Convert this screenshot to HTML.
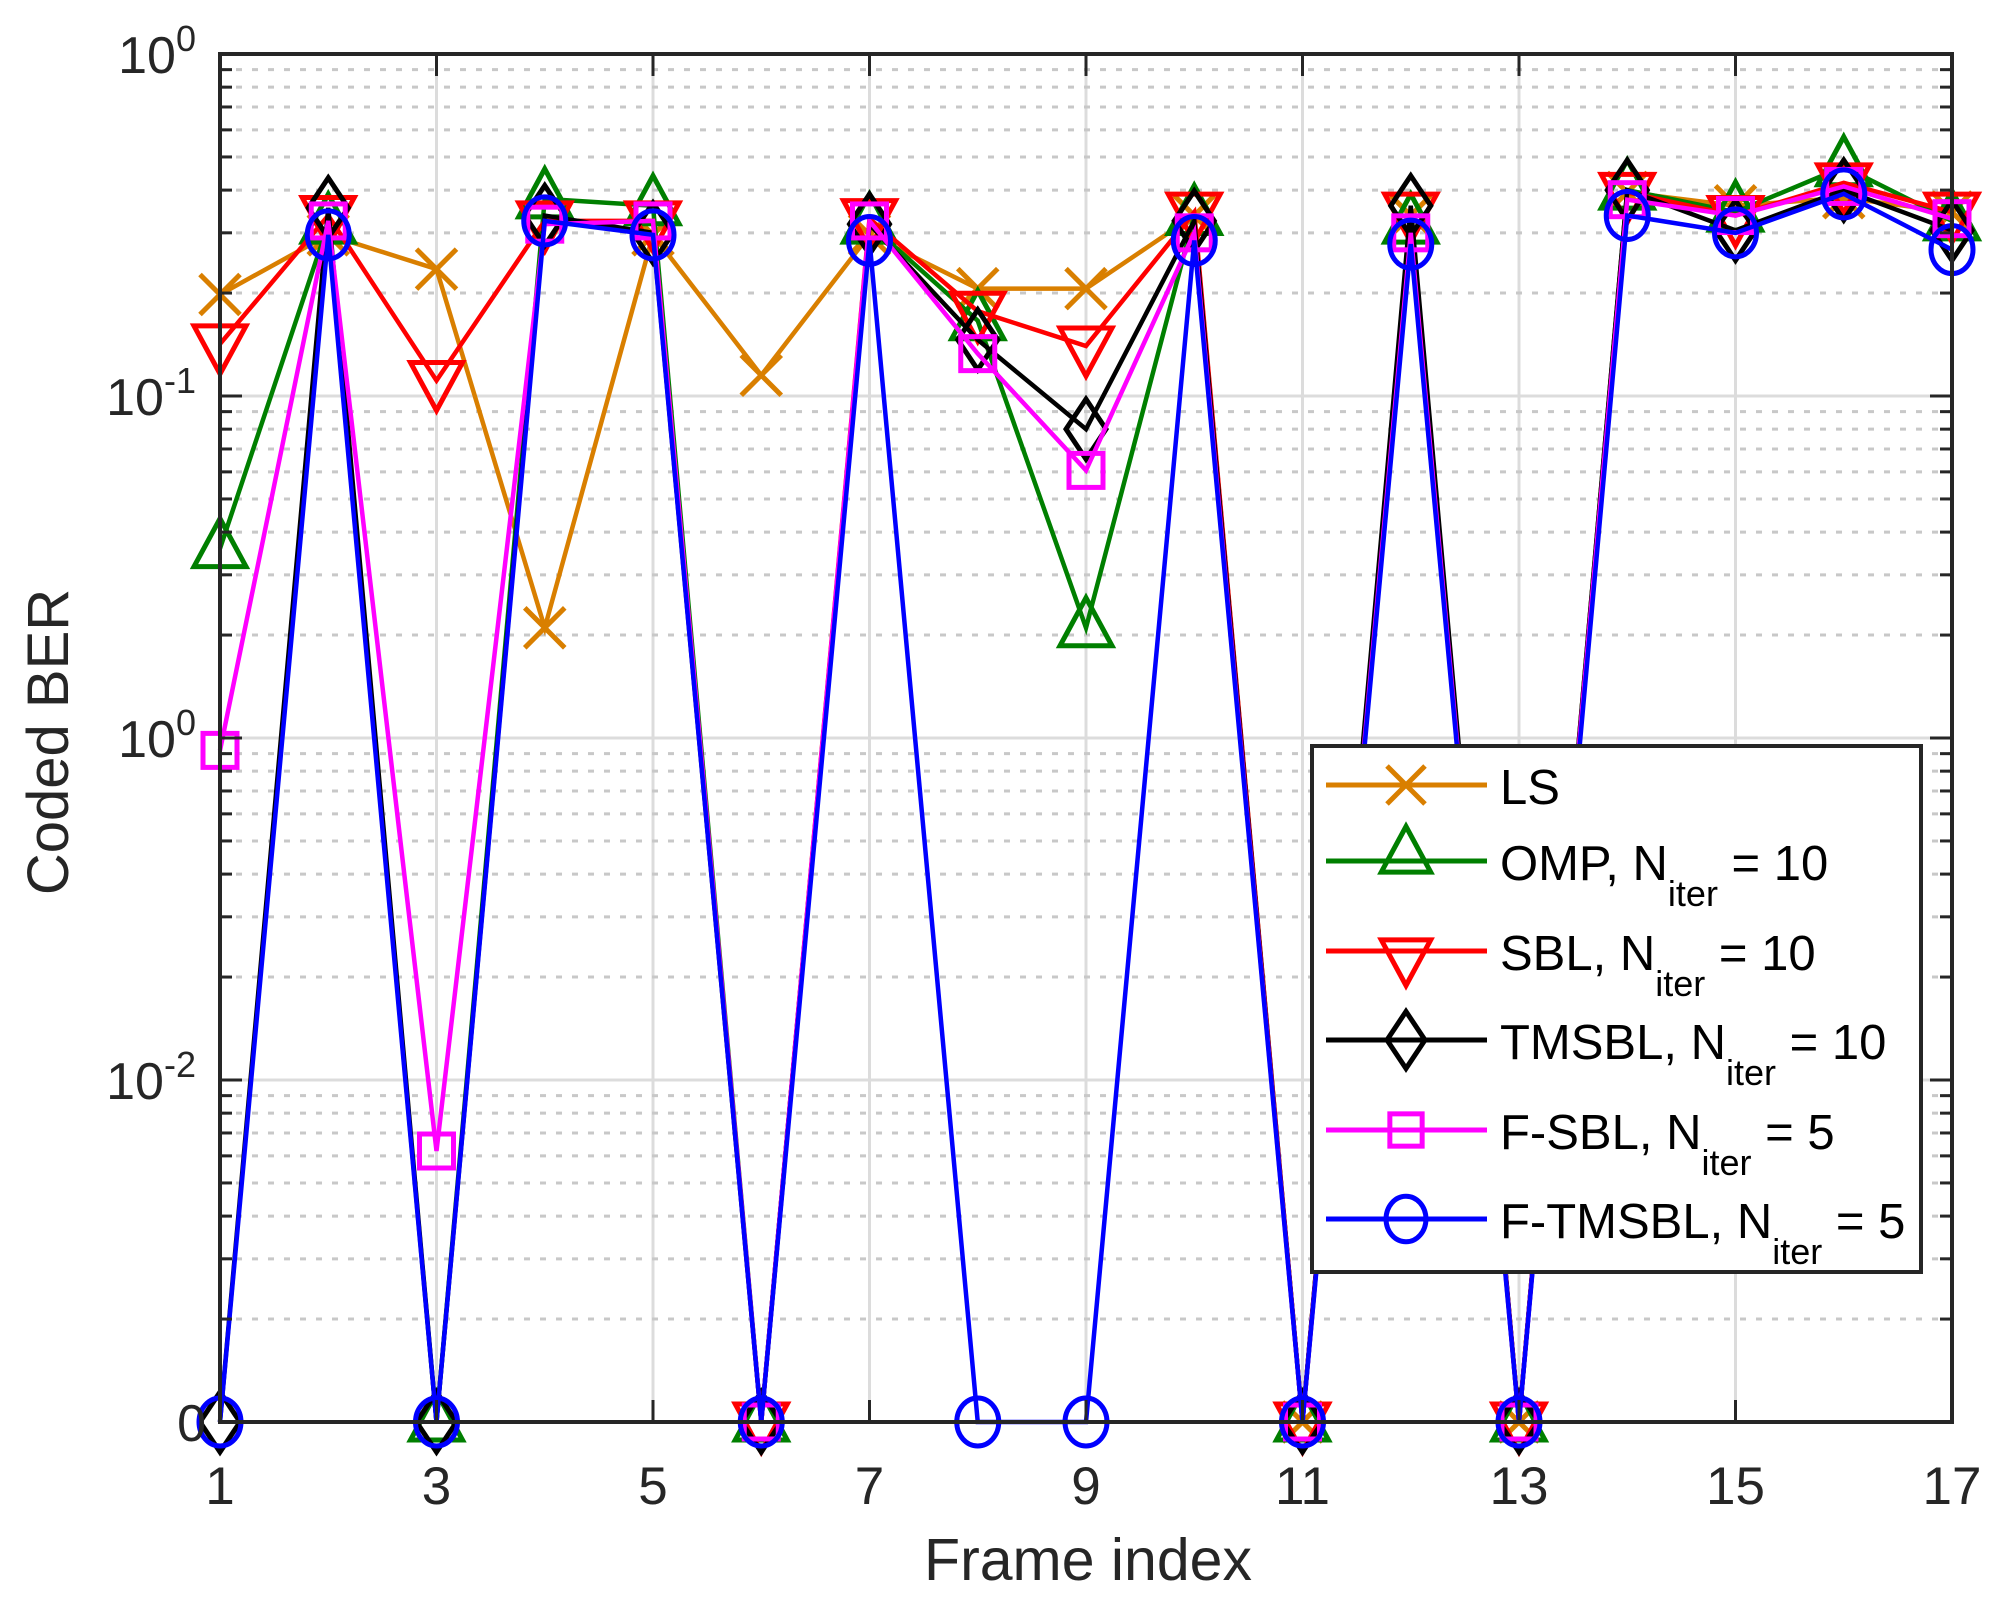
<!DOCTYPE html>
<html><head><meta charset="utf-8"><style>
html,body{margin:0;padding:0;background:#fff;}
svg{display:block;font-family:"Liberation Sans",sans-serif;}
</style></head><body>
<svg id="chart" width="2011" height="1600" viewBox="0 0 2011 1600" xmlns="http://www.w3.org/2000/svg">
<g id="grid"></g>
<g id="series"></g>
<g id="axes"></g>
<text x="1088" y="1580" font-size="59" text-anchor="middle" fill="#262626">Frame index</text>
<text transform="translate(68,742) rotate(-90)" font-size="58" text-anchor="middle" fill="#262626">Coded BER</text>
<g id="legend"></g>
</svg>
<script>
const frames = [1,2,3,4,5,6,7,8,9,10,11,12,13,14,15,16,17];
const lsVals    = [0.198,0.296,0.235,0.021,0.296,0.115,0.296,0.206,0.206,0.337,0,0.337,0,0.394,0.36,0.38,0.345];
const ompVals   = [0.0358,0.318,0,0.377,0.36,0,0.318,0.166,0.021,0.337,0,0.318,0,0.40,0.345,0.468,0.325];
const sblVals   = [0.142,0.337,0.111,0.325,0.325,0,0.33,0.177,0.14,0.345,0,0.345,0,0.394,0.337,0.42,0.345];
const tmsblVals = [0,0.355,0,0.337,0.30,0,0.318,0.146,0.08,0.325,0,0.36,0,0.40,0.305,0.40,0.305];
const fsblVals  = [0.0092,0.325,0.00062,0.318,0.325,0,0.325,0.133,0.0606,0.30,0,0.30,0,0.375,0.337,0.41,0.33];
const ftmsblVals= [0,0.296,0,0.325,0.296,0,0.285,0,0,0.285,0,0.278,0,0.337,0.30,0.39,0.268];
const xTickLabels = ["1","3","5","7","9","11","13","15","17"];
const xTickVals = [1,3,5,7,9,11,13,15,17];
const yTickLabels = [["10","0"],["10","-1"],["10","0"],["10","-2"],["0",""]];
const legendLabels = [["LS","",""],["OMP, N","iter"," = 10"],["SBL, N","iter"," = 10"],["TMSBL, N","iter"," = 10"],["F-SBL, N","iter"," = 5"],["F-TMSBL, N","iter"," = 5"]];

const L=220,R=1952,T=54,B=1422,DEC=342;
const NS="http://www.w3.org/2000/svg";
function xs(v){return L+(v-1)*(R-L)/16;}
function ys(v){ if(v<=1e-4) return B; return T+(-Math.log10(v))*DEC; }
function mk(tag,attrs,parent){const e=document.createElementNS(NS,tag);for(const k in attrs)e.setAttribute(k,attrs[k]);parent.appendChild(e);return e;}

const grid=document.getElementById('grid'), axes=document.getElementById('axes');
xTickVals.forEach(v=>{ if(v>1&&v<17){const g=mk('line',{x1:xs(v),x2:xs(v),y1:T,y2:B,stroke:'#dcdcdc','stroke-width':3},grid);

}});
for(let d=0;d<4;d++){
  for(let m=2;m<=9;m++){const y=T+d*DEC+(1-Math.log10(m))*DEC;
    const g=mk('line',{x1:L,x2:R,y1:y,y2:y,stroke:'#c8c8c8','stroke-width':3,'stroke-dasharray':'6 10'},grid);
    
    
    mk('line',{x1:L,x2:L+12,y1:y,y2:y,stroke:'#262626','stroke-width':3},axes);
    mk('line',{x1:R,x2:R-12,y1:y,y2:y,stroke:'#262626','stroke-width':3},axes);
  }
  if(d>0){const y=T+d*DEC;const g=mk('line',{x1:L,x2:R,y1:y,y2:y,stroke:'#dcdcdc','stroke-width':3},grid);
  
  
  mk('line',{x1:L,x2:L+22,y1:y,y2:y,stroke:'#262626','stroke-width':3},axes);
  mk('line',{x1:R,x2:R-22,y1:y,y2:y,stroke:'#262626','stroke-width':3},axes);}
}
const box=mk('rect',{x:L,y:T,width:R-L,height:B-T,fill:'none',stroke:'#262626','stroke-width':4},axes);


xTickVals.forEach((v,i)=>{
  mk('line',{x1:xs(v),x2:xs(v),y1:B,y2:B-22,stroke:'#262626','stroke-width':3},axes);
  mk('line',{x1:xs(v),x2:xs(v),y1:T,y2:T+22,stroke:'#262626','stroke-width':3},axes);
  const t=mk('text',{x:xs(v),y:1504,'font-size':53,'text-anchor':'middle',fill:'#262626'},axes);
  t.textContent=xTickLabels[i];
  
  
});
yTickLabels.forEach((lab,i)=>{
  const y=T+i*DEC;
  const t=mk('text',{x:196,y:y+19,'font-size':52,'text-anchor':'end',fill:'#262626'},axes);
  
  
  if(lab[1]){const a=mk('tspan',{},t);a.textContent=lab[0];const b=mk('tspan',{dy:-22,'font-size':36},t);b.textContent=lab[1];}
  else {t.textContent=lab[0];t.setAttribute('x',206);}
});

function marker(type,x,y,color,parent,s){
  s=s||1;
  let e;
  if(type==='x'){e=mk('path',{d:`M${x-20*s},${y-20*s}L${x+20*s},${y+20*s}M${x-20*s},${y+20*s}L${x+20*s},${y-20*s}`,stroke:color,'stroke-width':5,fill:'none'},parent);}
  else if(type==='tu'){e=mk('path',{d:`M${x},${y-30*s}L${x+26*s},${y+18*s}L${x-26*s},${y+18*s}Z`,stroke:color,'stroke-width':5,fill:'none'},parent);}
  else if(type==='td'){e=mk('path',{d:`M${x},${y+30*s}L${x+26*s},${y-18*s}L${x-26*s},${y-18*s}Z`,stroke:color,'stroke-width':5,fill:'none'},parent);}
  else if(type==='d'){e=mk('path',{d:`M${x},${y-30*s}L${x+20*s},${y}L${x},${y+30*s}L${x-20*s},${y}Z`,stroke:color,'stroke-width':5,fill:'none'},parent);}
  else if(type==='s'){e=mk('rect',{x:x-17*s,y:y-17*s,width:34*s,height:34*s,stroke:color,'stroke-width':5,fill:'none'},parent);}
  else {e=mk('ellipse',{cx:x,cy:y,rx:21*s,ry:24*s,stroke:color,'stroke-width':5,fill:'none'},parent);}
  return e;
}
const seriesList=[
 ['ls',lsVals,'#d97f00','x'],['omp',ompVals,'#007f00','tu'],['sbl',sblVals,'#ff0000','td'],
 ['tmsbl',tmsblVals,'#000000','d'],['fsbl',fsblVals,'#ff00ff','s'],['ftmsbl',ftmsblVals,'#0000ff','o']];
const sg=document.getElementById('series');
seriesList.forEach(([nm,vals,col,mt])=>{
  const g=mk('g',{},sg);
  
  
  const pts=frames.map((f,i)=>xs(f)+','+ys(vals[i])).join(' ');
  const pl=mk('polyline',{points:pts,fill:'none',stroke:col,'stroke-width':4.5,'stroke-linejoin':'miter'},g);
  
  
  frames.forEach((f,i)=>{const m=marker(mt,xs(f),ys(vals[i]),col,g);
    
    });
});
const lg=document.getElementById('legend');
const lb=mk('rect',{x:1312,y:746,width:609,height:526,fill:'#fff',stroke:'#262626','stroke-width':4},lg);


const ly=[785,861,951,1040,1130,1219];
seriesList.forEach(([nm,vals,col,mt],i)=>{
  const g=mk('g',{},lg);
  
  
  mk('line',{x1:1326,x2:1487,y1:ly[i],y2:ly[i],stroke:col,'stroke-width':5},g);
  marker(mt,1406,ly[i]+(mt==='tu'?-6:mt==='td'?6:0),col,g,0.95);
  const t=mk('text',{x:1500,y:ly[i]+19,'font-size':49,fill:'#000'},g);
  const a=mk('tspan',{},t);a.textContent=legendLabels[i][0];
  if(legendLabels[i][1]){const b=mk('tspan',{dy:26,'font-size':36},t);b.textContent=legendLabels[i][1];
   const c=mk('tspan',{dy:-26},t);c.textContent=legendLabels[i][2];}
});
</script>
</body></html>
